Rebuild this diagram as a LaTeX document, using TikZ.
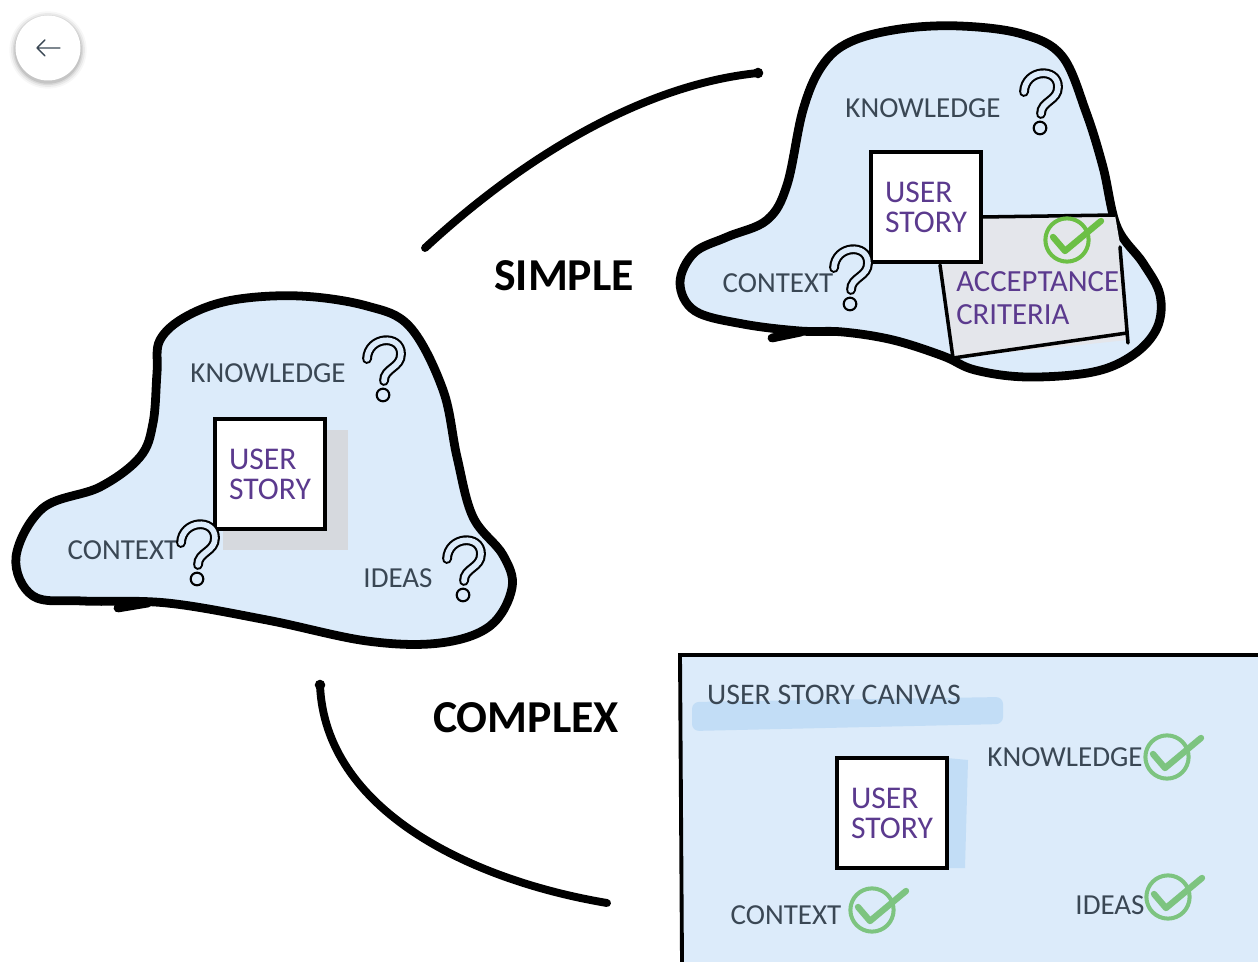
\documentclass[tikz,border=0pt]{standalone}
\usepackage{fontspec}
\setmainfont{Carlito}
\definecolor{blobfill}{HTML}{DCEBFA}
\definecolor{inkgray}{HTML}{3A4754}
\definecolor{storypurple}{HTML}{5B3A8E}
\definecolor{accgray}{HTML}{E4E6EB}
\definecolor{tickgreen}{HTML}{6CBF45}
\definecolor{softgreen}{HTML}{7DC480}
\definecolor{markblue}{HTML}{C2DDF6}
\definecolor{shadowgray}{HTML}{D6D9DE}

\begin{document}
\begin{tikzpicture}[x=0.02cm, y=-0.02cm,
    blob/.style={line width=5pt, fill=blobfill, line join=round},
    link/.style={line width=4.5pt, line cap=round},
    lbl/.style={text=inkgray, inner sep=0pt, font=\fontsize{16.5}{18}\selectfont},
    storybox/.style={draw, line width=2.2pt, fill=white, text=storypurple,
        minimum width=62.4pt, minimum height=62.4pt, align=left, inner sep=0pt,
        font=\fontsize{18}{17}\selectfont},
    headline/.style={font=\fontsize{26}{28}\selectfont\bfseries, inner sep=0pt},
    qmark/.pic={
        \draw[line width=1.2pt, double=blobfill, double distance=3.2pt, line cap=round]
            (-16,-14) .. controls (-15,-37) and (18,-39) .. (18,-19)
            .. controls (18,-5) and (1,-5) .. (1,8);
        \draw[line width=1.2pt, fill=blobfill] (0,22) circle (3.6pt);
    },
    okmark/.pic={
        \draw[line width=2.3pt] (0,0) circle (12.3pt);
        \draw[line width=3.6pt, line cap=round, line join=round] (-14,-3) -- (-2,11) -- (34,-19);
    }]
    \useasboundingbox (0,0) rectangle (1258,962);

    % back button
    \foreach \r/\o in {22pt/0.03, 21pt/0.05, 20pt/0.07, 19.2pt/0.09}
        \fill[black, opacity=\o] (48,50) circle (\r);
    \node[circle, fill=white, minimum size=37pt, inner sep=0pt] (back) at (48,48) {};
    \draw[inkgray, line width=0.8pt, line cap=round, line join=round]
        (60,48) -- (37,48) (45,40) -- (37,48) -- (45,56);

    % simple: blob with acceptance criteria
    \draw[blob] plot[smooth cycle, tension=0.6] coordinates {
        (822,66) (850,42) (900,29) (960,26) (1022,34) (1062,56) (1086,112)
        (1103,167) (1117,227) (1143,263) (1160,295) (1157,328) (1133,355)
        (1093,372) (1027,377) (975,370) (943,356) (893,340) (843,332)
        (800,331) (743,324) (695,311) (680,283) (694,253) (727,237)
        (767,220) (787,185) (803,110)};
    \draw[line width=5pt, line cap=round] (772,338) -- (801,332);
    \fill[accgray] (982,217) -- (1115,215) -- (1121,250) -- (1128,340)
        -- (953,358) -- (940,265) -- (982,262) -- cycle;
    \draw[line width=2pt, line cap=round, line join=round]
        (982,217) -- (1115,215) (1120,247) -- (1128,343)
        (940,265) -- (953,358) -- (1127,333);
    \node[storybox] (us1) at (926,207) {USER\\STORY};
    \node[lbl, text=storypurple, anchor=west, align=left, font=\fontsize{17.5}{19}\selectfont]
        (acc1) at (956,298) {ACCEPTANCE\\CRITERIA};
    \pic[tickgreen] at (1067,240) {okmark};
    \node[lbl] (kn1) at (923,108) {KNOWLEDGE};
    \pic at (1040,106) {qmark};
    \node[lbl] (ctx1) at (778,283) {CONTEXT};
    \pic at (850,282) {qmark};

    % complex: blob with open questions
    \draw[blob] plot[smooth cycle, tension=0.6] coordinates {
        (160,340) (187,316) (233,300) (300,296) (367,306) (410,327)
        (443,390) (457,457) (473,517) (503,555) (512,588) (490,626)
        (440,643) (367,641) (267,620) (167,603) (83,601) (33,596)
        (16,557) (43,508) (100,487) (140,457) (153,423) (157,373)};
    \draw[line width=5pt, line cap=round] (118,608) -- (148,603);
    \fill[shadowgray] (223,430) rectangle (348,550);
    \node[storybox] (us2) at (270,474) {USER\\STORY};
    \node[lbl] (kn2) at (268,373) {KNOWLEDGE};
    \pic at (383,373) {qmark};
    \node[lbl] (ctx2) at (123,550) {CONTEXT};
    \pic at (197,557) {qmark};
    \node[lbl] (id2) at (398,578) {IDEAS};
    \pic at (463,573) {qmark};

    % user story canvas
    \fill[blobfill] (680,655) rectangle (1258,962);
    \draw[line width=2.2pt] (1258,655) -- (680,655) -- (682,962);
    \fill[markblue, rounded corners=4pt] (692,702) -- (1003,697) -- (1003,724) -- (692,731) -- cycle;
    \node[lbl, font=\fontsize{17}{18}\selectfont] (title3) at (834,695) {USER STORY CANVAS};
    \fill[markblue] (947,758) -- (968,760) -- (965,868) -- (947,868) -- cycle;
    \node[storybox] (us3) at (892,813) {USER\\STORY};
    \node[lbl] (kn3) at (1065,757) {KNOWLEDGE};
    \pic[softgreen] at (1167,757) {okmark};
    \node[lbl] (ctx3) at (786,915) {CONTEXT};
    \pic[softgreen] at (872,910) {okmark};
    \node[lbl] (id3) at (1110,905) {IDEAS};
    \pic[softgreen] at (1168,897) {okmark};

    % connectors and labels
    \coordinate (simpleA) at (425,248);
    \coordinate (simpleB) at (758,73);
    \draw[link] (simpleA) .. controls (520,160) and (640,85) .. (simpleB);
    \fill (simpleB) circle (3pt);
    \node[headline] (simple) at (564,276) {SIMPLE};

    \coordinate (complexA) at (320,685);
    \coordinate (complexB) at (607,903);
    \draw[link] (complexA) .. controls (325,810) and (470,880) .. (complexB);
    \fill (complexA) circle (3pt);
    \node[headline] (complex) at (526,718) {COMPLEX};
\end{tikzpicture}
\end{document}
